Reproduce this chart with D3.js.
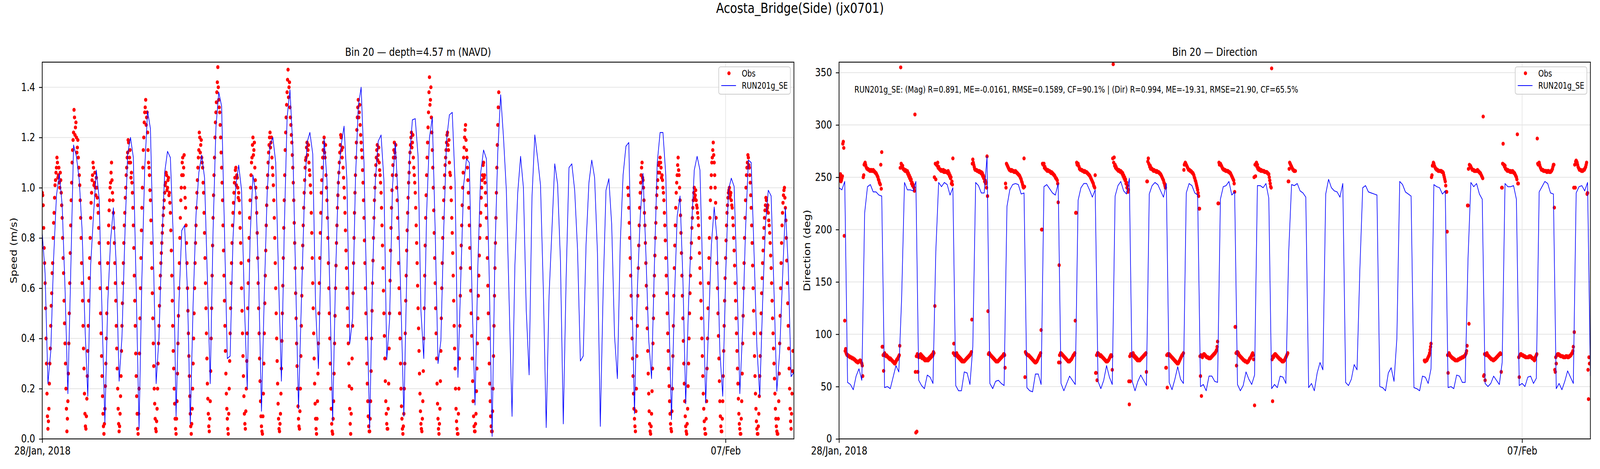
<!DOCTYPE html>
<html>
<head>
<meta charset="utf-8">
<script src="https://cdn.jsdelivr.net/npm/d3@7"></script>
<style>
  html, body { margin: 0; padding: 0; background: #fff; overflow: hidden; width: 100%; height: 100%; }
  #fig { display: block; width: 100vw; height: 100vh; }
  text { font-family: "DejaVu Sans", sans-serif; }
</style>
</head>
<body>
<svg id="fig" viewBox="0 0 5000 1200" preserveAspectRatio="none"></svg>
<script>
// ---------------- DATA ----------------
const figTitle = "Acosta_Bridge(Side) (jx0701)";
const speedTitle = "Bin 20 \u2014 depth=4.57 m (NAVD)";
const dirTitle = "Bin 20 \u2014 Direction";
const statsText = "RUN201g_SE: (Mag) R=0.891, ME=-0.0161, RMSE=0.1589, CF=90.1% | (Dir) R=0.994, ME=-19.31, RMSE=21.90, CF=65.5%";
const seriesNames = ["Obs", "RUN201g_SE"];

const xStart = new Date(2018, 0, 28, 0, 0);
const xEnd = new Date(2018, 1, 8, 0, 0);
const xTickDates = [new Date(2018, 0, 28), new Date(2018, 1, 7)];
const xTickLabels = ["28/Jan, 2018", "07/Feb"];
const speedTicks = [0.0, 0.2, 0.4, 0.6, 0.8, 1.0, 1.2, 1.4];
const dirTicks = [0, 50, 100, 150, 200, 250, 300, 350];

// model: hourly from xStart
const modelStart = new Date(2018, 0, 28, 0, 0);
const modelStepHours = 1;
const modelSpeed = [
0.82,0.66,0.22,0.35,0.72,0.97,1.055,0.93,0.60,0.18,
0.66,1.17,1.125,1.03,0.83,0.45,0.17,0.69,0.89,1.07,
0.955,0.50,0.065,0.54,0.79,0.92,0.69,0.23,0.405,0.80,
1.135,1.20,1.12,0.60,0.04,0.64,1.08,1.305,1.235,0.75,
0.22,0.405,0.78,1.06,1.145,1.12,0.81,0.09,0.54,0.83,
0.85,0.59,0.06,0.54,0.89,1.06,1.13,1.04,0.64,0.22,
0.83,1.24,1.38,1.325,0.83,0.32,0.33,0.80,1.01,1.09,
0.99,0.54,0.20,0.80,1.05,0.98,0.64,0.11,0.58,0.98,
1.17,1.20,1.10,0.64,0.23,0.83,1.28,1.39,1.165,0.64,
0.12,0.54,0.93,1.18,1.22,1.135,0.53,0.28,0.78,1.195,
1.03,0.60,0.07,0.64,1.03,1.17,1.245,1.03,0.38,0.48,
1.03,1.325,1.40,1.10,0.54,0.04,0.64,1.03,1.185,1.21,
1.03,0.315,0.475,1.00,1.18,0.95,0.54,0.09,0.64,1.115,
1.27,1.275,1.125,0.51,0.32,0.90,1.20,1.28,0.83,0.30,
0.39,0.83,1.19,1.29,1.30,1.02,0.245,0.64,1.01,1.115,
1.10,0.54,0.135,0.69,1.06,1.15,1.115,0.64,0.01,0.74,
1.145,1.37,1.20,0.99,0.54,0.09,0.69,0.98,1.125,1.00,
0.51,0.255,0.96,1.21,1.115,1.01,0.59,0.045,0.57,0.83,
1.095,1.015,0.71,0.06,0.64,1.08,1.095,0.99,0.755,0.31,
0.33,0.775,1.02,1.11,1.04,0.74,0.05,0.59,0.99,1.036,
0.853,0.41,0.24,0.775,1.05,1.165,1.18,0.64,0.10,0.59,
0.88,1.057,0.74,0.395,0.24,0.69,1.10,1.22,1.22,1.05,
0.54,0.077,0.54,0.887,0.967,0.64,0.14,0.54,0.83,1.07,
1.125,1.07,0.64,0.143,0.44,0.77,0.923,0.795,0.347,0.17,
0.64,0.99,1.038,1.005,0.64,0.18,0.44,0.83,1.11,1.10,
0.74,0.367,0.17,0.54,0.853,0.99,0.967,0.59,0.19,0.347,
0.64,0.92,0.69,0.248,0.265];

const modelDir = [
240,238,246,54,52,47,60,67,56,216,
241,243,236,236,233,232,49,50,48,59,
70,64,135,245,238,238,237,246,56,51,
48,61,59,53,179,245,241,245,243,233,
240,51,46,46,64,63,52,88,245,242,
235,235,270,53,48,55,56,53,51,222,
238,243,244,243,234,235,49,46,45,62,
62,52,241,243,239,235,233,244,53,46,
53,60,56,52,228,240,244,244,238,231,
238,55,48,56,70,59,52,232,242,246,
237,234,249,55,46,55,61,56,51,234,
242,245,243,237,231,244,54,47,57,69,
57,53,235,244,242,235,233,50,52,46,
60,60,55,54,229,241,242,246,233,236,
52,46,51,64,57,52,61,242,242,240,
244,230,48,52,49,60,59,53,179,243,
242,244,237,235,231,49,53,46,63,73,
66,234,248,240,237,236,231,244,54,51,
57,71,66,162,240,242,236,235,234,233,
50,49,46,63,68,55,96,246,243,236,
234,232,49,48,46,60,59,53,67,243,
241,240,234,237,49,50,48,61,60,54,
54,172,245,241,244,234,229,53,50,53,
60,56,52,73,244,241,241,242,229,51,
53,50,59,60,53,58,236,241,246,244,
235,234,48,53,47,55,65,59,53,235,
241,242,237,245,60];

// observations: 20-minute samples in two interleaved sets (on the hour-third and +10 min),
// two records separated by a data gap
const obsStepMinutes = 20;

const obsStartA1 = new Date(2018, 0, 28, 0, 0);
const obsSpeedA1 = [
0.98,0.93,0.76,0.62,0.40,0.18,
0.04,0.12,0.30,0.45,0.58,0.70,0.86,0.96,1.03,1.08,1.10,1.05,1.02,1.06,0.98,0.88,0.72,0.55,0.38,0.20,
0.03,0.15,0.38,0.62,0.85,1.02,1.15,1.22,1.28,1.24,1.20,1.16,1.12,1.05,0.95,0.80,0.62,0.45,0.28,0.10,
0.04,0.16,0.35,0.55,0.72,0.88,0.98,1.05,1.08,1.02,1.00,1.04,0.96,0.90,0.78,0.60,0.42,0.25,0.10,
0.02,0.12,0.30,0.50,0.70,0.85,0.95,1.02,1.10,0.98,0.90,0.78,0.62,0.45,0.28,0.12,
0.03,0.10,0.25,0.45,0.62,0.78,0.90,1.00,1.08,1.14,1.18,1.12,1.10,1.06,0.98,0.85,0.65,0.45,0.25,0.10,
0.02,0.20,0.48,0.72,0.92,1.08,1.20,1.30,1.35,1.28,1.22,1.10,1.05,0.95,0.78,0.58,0.38,0.20,0.08,
0.03,0.12,0.30,0.45,0.60,0.70,0.78,0.85,0.92,0.98,1.02,1.05,1.00,1.04,0.98,0.90,0.75,0.55,0.35,0.20,0.08,
0.02,0.15,0.38,0.60,0.80,0.95,1.05,1.12,1.08,1.00,0.92,0.78,0.60,0.42,0.25,0.10,
0.02,0.12,0.30,0.50,0.70,0.85,0.98,1.08,1.15,1.20,1.17,1.12,1.08,0.98,0.82,0.62,0.42,0.22,0.10,
0.03,0.15,0.40,0.65,0.88,1.05,1.20,1.30,1.38,1.48,1.35,1.30,1.20,1.08,0.95,0.75,0.55,0.35,0.18,0.08,
0.02,0.20,0.42,0.62,0.78,0.90,0.98,1.04,1.08,1.05,1.00,0.98,0.90,0.78,0.60,0.42,0.25,0.10,
0.04,0.20,0.42,0.62,0.80,0.95,1.05,1.12,1.20,1.15,1.08,1.00,0.90,0.72,0.52,0.32,0.15,0.05,
0.02,0.18,0.42,0.65,0.85,1.00,1.10,1.17,1.22,1.18,1.12,1.05,0.95,0.80,0.60,0.40,0.22,0.08,
0.03,0.10,0.28,0.50,0.72,0.95,1.15,1.28,1.38,1.47,1.40,1.32,1.25,1.18,1.08,0.95,0.78,0.58,0.38,0.20,0.08,
0.04,0.20,0.45,0.68,0.85,0.98,1.08,1.12,1.18,1.15,1.10,1.05,0.98,0.82,0.62,0.42,0.22,0.08,
0.02,0.15,0.38,0.62,0.82,0.98,1.08,1.15,1.20,1.12,1.05,0.95,0.80,0.60,0.40,0.20,0.06,
0.02,0.15,0.38,0.60,0.78,0.92,1.02,1.10,1.17,1.20,1.12,1.08,1.00,0.90,0.75,0.60,0.45,0.30,0.12,
0.02,0.20,0.45,0.70,0.90,1.05,1.18,1.28,1.35,1.30,1.25,1.18,1.12,1.02,0.88,0.70,0.50,0.30,0.15,0.05,
0.03,0.15,0.40,0.62,0.80,0.95,1.05,1.12,1.17,1.13,1.10,1.05,0.98,0.85,0.68,0.50,0.32,0.15,0.06,
0.04,0.22,0.50,0.75,0.92,1.05,1.12,1.18,1.12,1.05,0.95,0.80,0.60,0.40,0.20,0.08,
0.02,0.10,0.30,0.55,0.75,0.90,1.02,1.10,1.17,1.22,1.18,1.12,1.05,0.98,0.85,0.70,0.52,0.35,0.18,0.06,
0.03,0.15,0.40,0.65,0.88,1.05,1.18,1.30,1.44,1.35,1.28,1.15,1.00,0.82,0.62,0.42,0.22,0.08,
0.02,0.12,0.35,0.60,0.80,0.95,1.05,1.12,1.18,1.22,1.15,1.10,1.05,0.95,0.82,0.65,0.45,0.28,0.12,0.04,
0.02,0.20,0.45,0.68,0.85,1.00,1.12,1.20,1.25,1.15,1.08,0.98,0.85,0.68,0.50,0.32,0.15,0.05,
0.03,0.10,0.28,0.48,0.65,0.80,0.90,1.00,1.05,1.10,1.05,0.98,0.88,0.72,0.50,0.30,0.15,0.05,
0.03,0.20,0.45,0.68,0.88,1.08,1.25,1.38];
const obsDirA1 = [
251,248,246,249,282,278,
113,86,81,80,79,79,78,78,77,77,76,75,74,74,73,74,75,74,72,60,
252,263,262,259,258,257,257,256,257,256,257,256,255,254,252,250,247,244,262,274,
88,65,82,80,80,79,78,77,77,76,75,74,73,72,74,76,77,79,89,
355,262,261,258,257,257,256,256,254,252,250,248,245,243,240,310,
6,7,64,78,80,81,80,79,78,77,76,76,75,75,76,77,78,79,80,82,
127,248,262,264,260,258,257,257,256,257,256,256,255,255,256,254,252,250,246,
268,91,80,81,82,80,79,78,77,76,75,74,74,75,76,77,78,79,80,82,114,
267,262,258,257,257,256,256,256,255,255,254,252,250,247,245,270,
122,82,81,80,79,78,77,76,75,74,74,75,76,77,78,79,80,81,68,
240,262,260,258,257,256,257,256,256,255,256,255,254,253,252,250,248,245,241,268,
59,82,81,80,80,79,78,77,76,75,74,73,74,75,77,79,80,104,
200,262,263,260,258,257,257,256,256,255,255,254,253,252,250,249,247,226,
166,73,82,81,80,79,78,77,76,75,74,74,75,76,78,80,81,113,
216,262,263,260,258,257,257,256,256,256,255,255,254,253,252,250,248,246,244,241,252,
63,56,82,81,80,80,79,78,77,76,75,74,74,75,77,79,80,66,
358,269,262,260,258,257,257,256,256,255,254,252,250,248,245,242,238,
33,55,80,81,82,80,79,78,77,76,75,75,76,77,78,79,80,81,64,
246,268,262,261,259,258,257,257,256,256,256,255,255,254,253,251,249,247,244,240,
68,49,80,81,80,79,78,77,76,75,74,73,72,73,75,77,79,80,82,
262,264,262,260,258,257,256,256,255,254,252,249,246,242,238,232,
220,60,41,78,80,81,80,79,78,78,77,77,78,79,80,81,82,83,85,93,
225,262,263,261,259,258,257,257,256,256,256,255,254,253,251,249,247,236,
107,70,83,82,80,79,78,77,76,75,74,74,73,74,75,77,78,80,82,76,
32,251,264,262,259,258,257,257,256,256,256,255,255,255,254,253,247,241,
354,36,78,80,81,80,79,78,77,76,75,74,74,75,76,78,80,82,
246,264,262,260,258,257,256,256];

const obsStartA2 = new Date(2018, 0, 28, 0, 10);
const obsSpeedA2 = [
0.97,0.84,0.70,0.52,0.30,0.09,
0.07,0.22,0.36,0.53,0.66,0.80,0.90,1.01,1.06,1.12,1.04,1.08,1.00,1.03,0.93,0.80,0.66,0.46,0.30,0.12,
0.08,0.26,0.50,0.74,0.95,1.10,1.19,1.31,1.21,1.26,1.14,1.19,1.08,1.01,0.88,0.70,0.55,0.36,0.18,0.05,
0.09,0.25,0.45,0.64,0.80,0.94,1.03,1.10,1.01,1.06,0.97,1.00,0.93,0.84,0.70,0.50,0.33,0.17,0.05,
0.06,0.21,0.40,0.60,0.78,0.91,1.00,1.06,1.03,0.95,0.84,0.70,0.55,0.36,0.20,0.06,
0.05,0.17,0.35,0.54,0.70,0.85,0.96,1.05,1.12,1.19,1.10,1.15,1.04,1.02,0.92,0.76,0.55,0.34,0.17,0.04,
0.10,0.34,0.60,0.83,1.00,1.15,1.26,1.32,1.25,1.30,1.15,1.08,0.99,0.87,0.68,0.48,0.29,0.14,0.04,
0.07,0.20,0.38,0.53,0.65,0.74,0.82,0.89,0.95,1.01,1.06,0.99,1.03,0.97,0.94,0.83,0.65,0.45,0.28,0.14,0.04,
0.08,0.26,0.49,0.70,0.88,1.00,1.10,1.05,1.13,0.96,0.85,0.70,0.51,0.33,0.17,0.05,
0.06,0.20,0.40,0.60,0.78,0.92,1.03,1.12,1.22,1.14,1.19,1.10,1.02,0.90,0.72,0.52,0.32,0.16,0.05,
0.08,0.27,0.52,0.77,0.97,1.12,1.26,1.34,1.42,1.40,1.32,1.25,1.14,1.02,0.85,0.65,0.45,0.26,0.12,0.04,
0.10,0.31,0.52,0.70,0.85,0.94,1.02,1.07,1.01,1.04,0.96,0.95,0.84,0.70,0.51,0.33,0.17,0.06,
0.11,0.31,0.52,0.71,0.88,1.00,1.10,1.17,1.13,1.18,1.03,0.96,0.82,0.62,0.42,0.23,0.09,0.03,
0.09,0.30,0.54,0.75,0.93,1.05,1.14,1.20,1.16,1.20,1.08,1.01,0.88,0.70,0.50,0.31,0.14,0.04,
0.06,0.18,0.39,0.61,0.84,1.05,1.22,1.33,1.43,1.36,1.42,1.28,1.21,1.13,1.02,0.86,0.68,0.48,0.29,0.13,0.05,
0.11,0.33,0.57,0.77,0.92,1.03,1.11,1.16,1.13,1.17,1.07,1.01,0.90,0.72,0.52,0.32,0.14,0.04,
0.08,0.26,0.50,0.72,0.90,1.03,1.12,1.18,1.14,1.17,1.00,0.88,0.70,0.50,0.30,0.12,0.03,
0.08,0.26,0.49,0.69,0.85,0.97,1.06,1.14,1.21,1.15,1.16,1.04,0.96,0.83,0.68,0.52,0.38,0.21,0.06,
0.10,0.32,0.58,0.80,0.98,1.12,1.23,1.32,1.28,1.33,1.21,1.15,1.07,0.95,0.79,0.60,0.40,0.22,0.09,0.03,
0.08,0.27,0.51,0.71,0.88,1.00,1.09,1.15,1.11,1.16,1.07,1.02,0.92,0.77,0.59,0.41,0.23,0.10,0.04,
0.12,0.36,0.63,0.84,0.99,1.09,1.15,1.14,1.17,1.00,0.88,0.70,0.50,0.30,0.13,0.04,
0.05,0.20,0.42,0.65,0.83,0.96,1.06,1.14,1.20,1.16,1.21,1.08,1.02,0.92,0.78,0.61,0.44,0.26,0.11,0.04,
0.08,0.27,0.52,0.77,0.97,1.12,1.24,1.38,1.33,1.40,1.22,1.08,0.91,0.72,0.52,0.32,0.14,0.04,
0.06,0.23,0.48,0.70,0.88,1.00,1.09,1.15,1.21,1.17,1.19,1.06,1.00,0.88,0.74,0.55,0.36,0.20,0.07,0.02,
0.10,0.32,0.57,0.77,0.93,1.06,1.16,1.23,1.19,1.12,1.03,0.92,0.76,0.59,0.41,0.23,0.09,0.03,
0.06,0.19,0.38,0.57,0.73,0.85,0.96,1.03,1.09,1.04,1.02,0.93,0.80,0.61,0.40,0.22,0.09,0.03,
0.11,0.33,0.57,0.78,0.98,1.17,1.32];
const obsDirA2 = [
250,253,247,251,284,194,
84,82,80,80,79,78,78,77,77,76,76,75,74,73,74,74,75,73,70,250,
262,264,260,258,258,257,256,257,256,256,256,255,254,253,251,248,245,243,239,88,
80,81,80,79,79,78,77,76,76,75,74,73,72,73,75,76,78,80,259,
263,260,258,257,256,256,255,253,251,249,247,244,242,241,237,64,
79,81,80,80,79,78,77,77,76,75,75,76,76,77,78,79,80,81,83,250,
263,262,261,259,258,257,256,256,256,255,255,255,255,254,253,251,249,244,243,
82,81,81,80,79,78,77,76,75,74,74,74,75,76,77,78,79,80,81,83,263,
264,260,257,257,256,256,255,255,254,253,251,249,246,244,240,232,
81,82,80,79,78,77,76,75,74,74,74,75,76,77,78,79,81,80,244,
263,261,259,257,257,256,256,256,255,255,255,254,253,252,251,249,246,243,240,241,
83,81,80,80,79,78,77,76,75,74,73,73,74,76,78,80,82,200,
263,262,259,258,257,256,256,256,255,254,254,253,252,251,249,248,244,73,
80,82,81,80,79,78,77,76,75,74,74,75,76,77,79,80,82,216,
264,262,261,258,257,257,256,256,255,255,255,254,253,252,251,249,247,245,242,240,63,
80,82,81,80,79,79,78,77,76,75,74,74,75,76,78,80,79,268,
264,261,259,258,257,256,256,255,255,253,251,249,247,244,240,236,55,
79,81,81,80,79,78,77,76,75,75,75,76,77,78,79,80,81,82,246,
265,263,260,258,258,257,256,256,256,255,255,255,254,253,252,250,248,245,242,68,
80,81,81,80,79,78,77,76,75,74,73,72,72,74,76,78,80,81,257,
263,263,261,259,257,257,256,255,254,253,250,247,244,240,235,220,
79,80,79,80,81,80,79,78,78,77,77,77,78,79,80,81,82,84,88,225,
264,262,262,260,258,257,257,256,256,256,255,255,254,252,250,248,244,107,
82,83,81,80,79,78,77,76,75,75,74,74,73,74,76,77,79,81,80,250,
262,263,260,258,257,257,256,256,256,256,255,255,255,254,253,250,244,240,
76,79,80,81,80,79,78,77,76,76,75,74,74,75,77,79,81,246,
258,263,261,259,257,256,256];

const obsStartB1 = new Date(2018, 1, 5, 13, 40);
const obsSpeedB1 = [
1.00,0.92,0.80,0.65,0.48,0.32,0.18,0.08,
0.03,0.20,0.45,0.68,0.85,0.98,1.05,1.10,1.03,0.95,0.85,0.70,0.52,0.35,0.18,0.06,
0.02,0.10,0.28,0.48,0.65,0.80,0.92,1.00,1.06,1.10,1.12,1.08,1.05,1.00,0.95,0.85,0.72,0.58,0.42,0.28,0.15,0.06,
0.03,0.20,0.45,0.68,0.85,0.98,1.05,1.12,1.05,0.95,0.82,0.65,0.48,0.30,0.15,0.05,
0.02,0.12,0.30,0.50,0.65,0.78,0.88,0.95,1.00,0.97,0.95,0.92,0.88,0.80,0.68,0.55,0.40,0.25,0.12,0.04,
0.02,0.15,0.40,0.62,0.80,0.95,1.05,1.12,1.18,1.10,1.00,0.88,0.70,0.50,0.32,0.15,0.05,
0.03,0.15,0.35,0.55,0.72,0.85,0.93,0.98,1.00,0.97,0.95,0.92,0.85,0.75,0.62,0.48,0.35,0.22,0.10,0.04,
0.02,0.15,0.38,0.60,0.80,0.95,1.05,1.10,1.12,1.08,1.02,0.92,0.78,0.60,0.42,0.25,0.12,0.04,
0.02,0.10,0.25,0.42,0.58,0.70,0.80,0.88,0.93,0.95,0.92,0.90,0.85,0.78,0.68,0.55,0.42,0.30,0.18,0.08,0.03,
0.02,0.15,0.38,0.60,0.78,0.90,0.97,1.00,0.92,0.80,0.62,0.45,0.28,0.12,
0.04,0.18,0.35];
const obsDirB1 = [
75,74,75,76,78,80,85,91,
252,262,263,260,258,257,257,256,256,256,256,255,254,250,246,236,
198,63,82,80,79,78,77,76,76,75,75,75,76,76,77,77,78,78,79,80,82,89,
223,110,261,260,258,257,257,256,256,256,257,256,255,254,252,250,
308,61,56,80,82,80,79,78,77,76,76,75,76,77,78,79,80,81,82,64,
240,282,262,261,258,257,257,256,256,256,255,256,255,254,252,250,291,
244,59,80,81,80,80,79,79,78,78,78,78,79,79,78,77,76,75,78,80,
287,262,264,260,258,257,257,256,256,256,255,256,256,255,255,256,258,262,
221,64,72,80,81,80,80,79,79,79,78,78,79,79,78,78,79,80,81,82,88,
102,240,266,264,260,258,257,257,256,256,257,258,260,264,
235,38,72];

const obsStartB2 = new Date(2018, 1, 5, 13, 50);
const obsSpeedB2 = [
0.97,0.86,0.72,0.57,0.40,0.25,0.12,0.05,
0.11,0.33,0.57,0.77,0.92,1.02,1.08,1.04,1.00,0.90,0.78,0.61,0.44,0.26,0.11,0.03,
0.05,0.19,0.38,0.57,0.73,0.86,0.97,1.03,1.09,1.06,1.10,1.04,1.03,0.98,0.90,0.79,0.65,0.50,0.35,0.21,0.10,0.04,
0.11,0.33,0.57,0.77,0.92,1.02,1.09,1.07,1.00,0.89,0.74,0.57,0.39,0.22,0.09,0.03,
0.06,0.21,0.40,0.58,0.72,0.84,0.92,0.98,0.96,0.99,0.93,0.90,0.85,0.74,0.62,0.48,0.33,0.18,0.07,0.02,
0.08,0.28,0.52,0.72,0.88,1.00,1.10,1.15,1.13,1.05,0.94,0.80,0.60,0.41,0.23,0.09,0.03,
0.08,0.25,0.45,0.64,0.79,0.90,0.96,0.99,0.96,0.98,0.93,0.88,0.80,0.69,0.55,0.42,0.28,0.16,0.06,0.02,
0.08,0.26,0.49,0.70,0.88,1.00,1.08,1.13,1.09,1.05,0.97,0.85,0.69,0.51,0.33,0.18,0.07,0.02,
0.05,0.17,0.33,0.50,0.64,0.75,0.84,0.91,0.96,0.91,0.93,0.87,0.82,0.73,0.62,0.48,0.36,0.24,0.12,0.05,0.02,
0.08,0.26,0.49,0.70,0.85,0.94,0.99,0.96,0.87,0.71,0.54,0.36,0.20,0.07,
0.10,0.27];
const obsDirB2 = [
74,75,75,77,79,82,88,250,
261,264,261,259,258,257,256,256,256,256,255,255,252,248,242,236,
80,81,81,79,78,77,77,76,75,75,75,76,76,77,77,78,78,79,79,81,84,223,
258,262,261,259,257,257,256,256,256,256,256,255,254,253,251,249,
60,81,81,81,80,79,78,77,76,76,75,76,76,77,78,79,80,81,81,240,
263,262,260,258,257,256,256,256,255,255,255,255,254,253,251,248,244,
78,80,81,80,80,79,79,78,78,78,78,79,79,78,77,77,76,76,79,81,
263,263,262,259,257,257,256,256,256,256,255,256,255,255,256,257,260,262,
66,78,80,81,81,80,79,79,79,78,78,78,79,79,78,79,79,80,82,84,240,
262,265,265,262,259,257,257,256,256,257,257,259,262,234,
66,78];

// ---------------- BUILD RECORDS ----------------
const HOUR = 3600e3, MIN = 60e3;
const model = modelSpeed.map((v, i) => ({
  t: new Date(+modelStart + i * modelStepHours * HOUR), speed: v, dir: modelDir[i]
}));
const obsSets = [
  [obsStartA1, obsSpeedA1, obsDirA1],
  [obsStartA2, obsSpeedA2, obsDirA2],
  [obsStartB1, obsSpeedB1, obsDirB1],
  [obsStartB2, obsSpeedB2, obsDirB2]
];
const obs = [];
obsSets.forEach(([t0, sp, dr]) => sp.forEach((v, i) =>
  obs.push({ t: new Date(+t0 + i * obsStepMinutes * MIN), speed: v, dir: dr[i] })));
obs.sort((a, b) => a.t - b.t);

// ---------------- LAYOUT / STYLE ----------------
const FONT = '"DejaVu Sans", sans-serif';
const TOP = 159, BOTTOM = 1123;
const svg = d3.select("#fig");
svg.append("rect").attr("width", 5000).attr("height", 1200).attr("fill", "#fff");

svg.append("text").attr("x", 2500).attr("y", 33).attr("text-anchor", "middle")
  .attr("font-size", 36).attr("font-family", FONT).text(figTitle);

const panels = [
  { id: "spd", left: 132, right: 2481, key: "speed", domain: [0, 1.5], ticks: speedTicks,
    fmt: d3.format(".1f"), title: speedTitle, ylabel: "Speed (m/s)", ylabelX: 52, stats: false },
  { id: "dir", left: 2622, right: 4970, key: "dir", domain: [0, 360], ticks: dirTicks,
    fmt: d3.format("d"), title: dirTitle, ylabel: "Direction (deg)", ylabelX: 2532, stats: true }
];

panels.forEach(p => {
  const x = d3.scaleTime().domain([xStart, xEnd]).range([p.left, p.right]);
  const y = d3.scaleLinear().domain(p.domain).range([BOTTOM, TOP]);
  const g = svg.append("g");

  svg.append("clipPath").attr("id", "clip-" + p.id).append("rect")
    .attr("x", p.left).attr("y", TOP).attr("width", p.right - p.left).attr("height", BOTTOM - TOP);

  // grid
  const grid = g.append("g").attr("stroke", "#e6e6e6").attr("stroke-width", 2.2);
  grid.selectAll("line.h").data(p.ticks).join("line").attr("class", "h")
    .attr("x1", p.left).attr("x2", p.right).attr("y1", d => y(d)).attr("y2", d => y(d));
  grid.selectAll("line.v").data(xTickDates).join("line").attr("class", "v")
    .attr("x1", d => x(d)).attr("x2", d => x(d)).attr("y1", TOP).attr("y2", BOTTOM);

  // data
  const dg = g.append("g").attr("clip-path", `url(#clip-${p.id})`);
  dg.append("g").selectAll("circle").data(obs).join("circle")
    .attr("cx", d => x(d.t)).attr("cy", d => y(d[p.key])).attr("r", 5).attr("fill", "#ff0000");
  dg.append("path").datum(model)
    .attr("d", d3.line().x(d => x(d.t)).y(d => y(d[p.key])))
    .attr("fill", "none").attr("stroke", "#0000ff").attr("stroke-width", 2)
    .attr("stroke-linejoin", "round");

  // axes
  const yAxis = d3.axisLeft(y).tickValues(p.ticks).tickFormat(p.fmt)
    .tickSize(10).tickSizeOuter(0).tickPadding(12);
  g.append("g").attr("transform", `translate(${p.left},0)`).call(yAxis)
    .attr("font-size", 27.8).attr("font-family", FONT)
    .call(s => s.select(".domain").remove())
    .call(s => s.selectAll(".tick line").attr("stroke", "#000").attr("stroke-width", 2.2))
    .call(s => s.selectAll(".tick text").attr("fill", "#000"));

  const xAxis = d3.axisBottom(x).tickValues(xTickDates)
    .tickFormat((d, i) => xTickLabels[i]).tickSize(10).tickSizeOuter(0).tickPadding(10);
  g.append("g").attr("transform", `translate(0,${BOTTOM})`).call(xAxis)
    .attr("font-size", 27.8).attr("font-family", FONT)
    .call(s => s.select(".domain").remove())
    .call(s => s.selectAll(".tick line").attr("stroke", "#000").attr("stroke-width", 2.2))
    .call(s => s.selectAll(".tick text").attr("fill", "#000"));

  // frame
  g.append("rect").attr("x", p.left).attr("y", TOP).attr("width", p.right - p.left)
    .attr("height", BOTTOM - TOP).attr("fill", "none").attr("stroke", "#000").attr("stroke-width", 2.2);

  // title & ylabel
  g.append("text").attr("x", (p.left + p.right) / 2).attr("y", 143).attr("text-anchor", "middle")
    .attr("font-size", 28.5).attr("font-family", FONT).text(p.title);
  g.append("text").attr("transform", `translate(${p.ylabelX},${(TOP + BOTTOM) / 2}) rotate(-90)`)
    .attr("text-anchor", "middle").attr("font-size", 27.8).attr("font-family", FONT).text(p.ylabel);

  if (p.stats) {
    g.append("text").attr("x", p.left + 48).attr("y", 237).attr("font-size", 22.2)
      .attr("font-family", FONT).text(statsText);
  }

  // legend
  const lx = p.right - 235, ly = 171;
  const lg = g.append("g");
  lg.append("rect").attr("x", lx).attr("y", ly).attr("width", 224).attr("height", 70)
    .attr("rx", 6).attr("fill", "#fff").attr("fill-opacity", 0.8)
    .attr("stroke", "#cccccc").attr("stroke-width", 2);
  lg.append("circle").attr("cx", lx + 32).attr("cy", ly + 16.5).attr("r", 5).attr("fill", "#ff0000");
  lg.append("line").attr("x1", lx + 8).attr("x2", lx + 54).attr("y1", ly + 48).attr("y2", ly + 48)
    .attr("stroke", "#0000ff").attr("stroke-width", 2);
  lg.append("text").attr("x", lx + 72).attr("y", ly + 25).attr("font-size", 22.2)
    .attr("font-family", FONT).text(seriesNames[0]);
  lg.append("text").attr("x", lx + 72).attr("y", ly + 56).attr("font-size", 22.2)
    .attr("font-family", FONT).text(seriesNames[1]);
});
</script>
</body>
</html>
